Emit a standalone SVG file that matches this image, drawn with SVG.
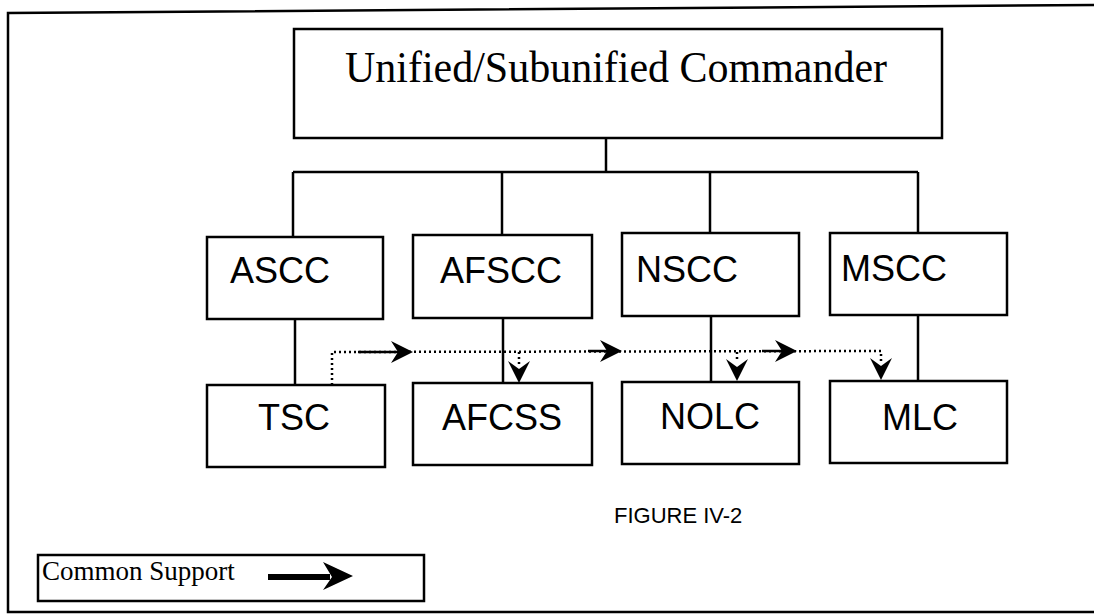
<svg xmlns="http://www.w3.org/2000/svg" width="1094" height="615" viewBox="0 0 1094 615">
<style>
.box{fill:#fff;stroke:#000;stroke-width:2.5}
.ln{fill:none;stroke:#000;stroke-width:2.5}
.dot{fill:none;stroke:#000;stroke-width:2.5;stroke-dasharray:2 3}
.sans{font-family:"Liberation Sans",Arial,sans-serif;font-size:36px;fill:#000}
.cap{font-family:"Liberation Sans",Arial,sans-serif;font-size:22px;fill:#000}
.serif{font-family:"Liberation Serif","Times New Roman",serif;fill:#000}
.title{font-size:45px}
.leg{font-size:27px}
.head{fill:#000}
</style>
<defs>
<path id="rh" d="M0,0 L-22,-11 L-15,0 L-22,11 Z"/>
<path id="dh" d="M0,0 L-11,-22 L0,-14 L11,-22 Z"/>
</defs>
<rect width="1094" height="615" fill="#fff"/>
<g id="frame">
<polyline class="ln" points="1094,5 8,13 8,612 1094,612" stroke-width="3"/>
</g>
<g id="connectors">
<line class="ln" x1="606" y1="138" x2="606" y2="172"/>
<line class="ln" x1="293" y1="172" x2="918" y2="172"/>
<line class="ln" x1="293" y1="172" x2="293" y2="237"/>
<line class="ln" x1="502" y1="172" x2="502" y2="235"/>
<line class="ln" x1="710" y1="172" x2="710" y2="233"/>
<line class="ln" x1="918" y1="172" x2="918" y2="233"/>
<line class="ln" x1="295" y1="319" x2="295" y2="385"/>
<line class="ln" x1="503" y1="318" x2="503" y2="383"/>
<line class="ln" x1="711" y1="316" x2="711" y2="382"/>
<line class="ln" x1="918" y1="315" x2="918" y2="381"/>
<g id="common-support">
<polyline class="dot" points="332,385 332,352 881,351 881,362"/>
<line class="dot" x1="519" y1="352" x2="519" y2="364"/>
<line class="dot" x1="737" y1="352" x2="737" y2="362"/>
<line class="ln" x1="358" y1="352" x2="400" y2="352" stroke-width="3"/>
<line class="ln" x1="588" y1="351" x2="610" y2="351" stroke-width="3"/>
<line class="ln" x1="762" y1="351" x2="785" y2="351" stroke-width="3"/>
<use href="#rh" class="head" x="413" y="352"/>
<use href="#rh" class="head" x="622" y="351"/>
<use href="#rh" class="head" x="797" y="351"/>
<use href="#dh" class="head" x="519" y="383"/>
<use href="#dh" class="head" x="737" y="381"/>
<use href="#dh" class="head" x="881" y="380"/>
</g>
</g>
<g id="commander">
<rect class="box" x="294" y="29" width="648" height="109"/>
<text class="serif title" x="345" y="82" textLength="542" lengthAdjust="spacingAndGlyphs">Unified/Subunified Commander</text>
</g>
<g id="ascc"><rect class="box" x="207" y="237" width="176" height="82"/><text class="sans" x="230" y="283">ASCC</text></g>
<g id="afscc"><rect class="box" x="413" y="235" width="179" height="83"/><text class="sans" x="440" y="283">AFSCC</text></g>
<g id="nscc"><rect class="box" x="622" y="233" width="177" height="83"/><text class="sans" x="636" y="282">NSCC</text></g>
<g id="mscc"><rect class="box" x="830" y="233" width="177" height="82"/><text class="sans" x="841" y="281">MSCC</text></g>
<g id="tsc"><rect class="box" x="207" y="385" width="178" height="82"/><text class="sans" x="258" y="430">TSC</text></g>
<g id="afcss"><rect class="box" x="413" y="383" width="179" height="82"/><text class="sans" x="442" y="430">AFCSS</text></g>
<g id="nolc"><rect class="box" x="622" y="382" width="177" height="82"/><text class="sans" x="660" y="429">NOLC</text></g>
<g id="mlc"><rect class="box" x="830" y="381" width="177" height="82"/><text class="sans" x="882" y="430">MLC</text></g>
<g id="caption"><text class="cap" x="614" y="523">FIGURE IV-2</text></g>
<g id="legend">
<rect class="box" x="38" y="555" width="386" height="46" stroke-width="2"/>
<text class="serif leg" x="42" y="580">Common Support</text>
<line x1="268" y1="577" x2="330" y2="577" stroke="#000" stroke-width="6"/>
<path class="head" d="M353,576 L323,562 L332,577 L323,590 Z"/>
</g>
</svg>
